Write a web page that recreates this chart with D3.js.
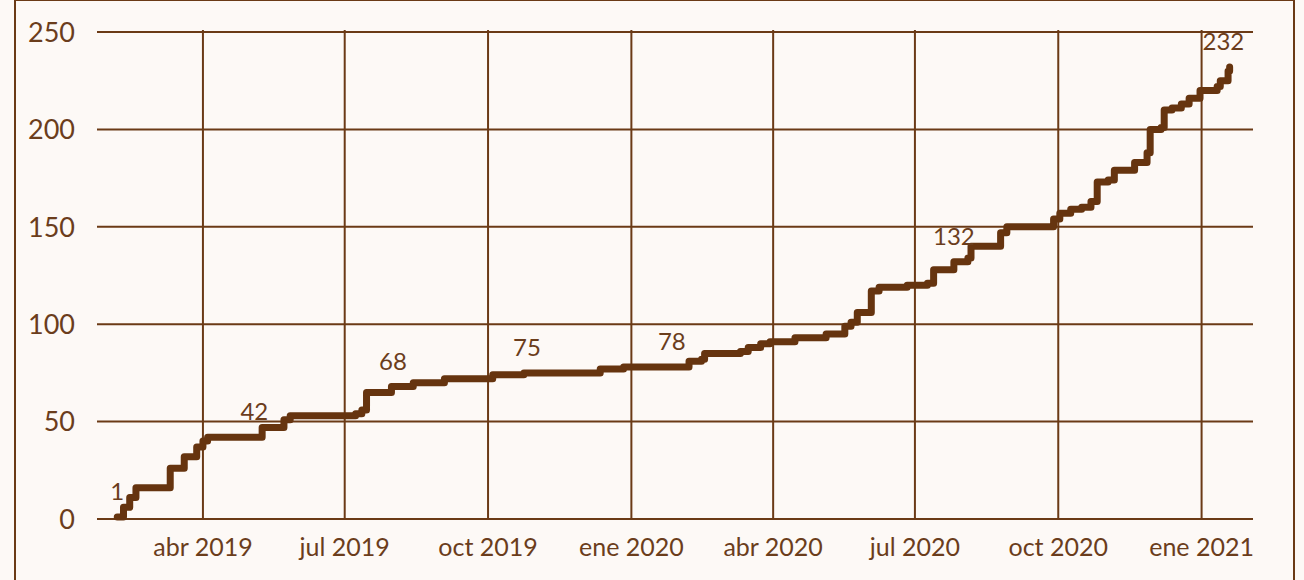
<!DOCTYPE html>
<html>
<head>
<meta charset="utf-8">
<script src="https://cdn.jsdelivr.net/npm/d3@7"></script>
<style>
    html, body { margin: 0; padding: 0; background: #fdf9f6; }
    #chart { width: 1304px; height: 580px; }
    text { font-family: "Lato", "Open Sans", sans-serif; fill: #6b3d1c; }
</style>
</head>
<body>
<div id="chart"></div>
<script>
// cumulative count
var dates = ["2019-02-05", "2019-02-09", "2019-02-13", "2019-02-17", "2019-03-08", "2019-03-11",
    "2019-03-18", "2019-03-20", "2019-03-25", "2019-03-28", "2019-04-01", "2019-04-04",
    "2019-05-07", "2019-05-09", "2019-05-21", "2019-05-23", "2019-05-27", "2019-07-04",
    "2019-07-08", "2019-07-12", "2019-07-15", "2019-07-25", "2019-07-31", "2019-08-12",
    "2019-08-14", "2019-08-28", "2019-09-03", "2019-10-01", "2019-10-04", "2019-10-22",
    "2019-10-24", "2019-12-10", "2019-12-12", "2019-12-25", "2019-12-27", "2020-02-02",
    "2020-02-07", "2020-02-15", "2020-02-17", "2020-03-05", "2020-03-11", "2020-03-16",
    "2020-03-24", "2020-03-30", "2020-04-13", "2020-04-15", "2020-05-03", "2020-05-05",
    "2020-05-13", "2020-05-17", "2020-05-21", "2020-05-25", "2020-06-01", "2020-06-03",
    "2020-06-08", "2020-06-26", "2020-07-09", "2020-07-13", "2020-07-22", "2020-07-26",
    "2020-07-28", "2020-08-04", "2020-08-06", "2020-08-23", "2020-08-25", "2020-08-29",
    "2020-09-22", "2020-09-28", "2020-10-02", "2020-10-09", "2020-10-16", "2020-10-22",
    "2020-10-26", "2020-11-02", "2020-11-06", "2020-11-16", "2020-11-19", "2020-11-24",
    "2020-11-27", "2020-11-29", "2020-12-06", "2020-12-08", "2020-12-13", "2020-12-19",
    "2020-12-24", "2020-12-29", "2020-12-31", "2021-01-07", "2021-01-11", "2021-01-13",
    "2021-01-17", "2021-01-18", "2021-01-19"];
var counts = [1, 6, 11, 16, 16, 26,
    26, 32, 32, 37, 40, 42,
    42, 47, 47, 51, 53, 53,
    54, 56, 65, 65, 68, 68,
    70, 70, 72, 72, 74, 74,
    75, 75, 77, 77, 78, 78,
    81, 82, 85, 85, 86, 88,
    90, 91, 91, 93, 93, 95,
    95, 99, 101, 106, 106, 117,
    119, 120, 121, 128, 128, 132,
    132, 134, 140, 140, 147, 150,
    150, 154, 157, 159, 160, 163,
    173, 174, 179, 179, 183, 183,
    188, 200, 201, 210, 211, 213,
    216, 216, 220, 220, 222, 225,
    225, 230, 232];

// labelled points
var labelDates = ["2019-02-05", "2019-05-04", "2019-08-01", "2019-10-26", "2020-01-27", "2020-07-26", "2021-01-15"];
var labelValues = [1, 42, 68, 75, 78, 132, 232];

var yTicks = [0, 50, 100, 150, 200, 250];
var xTicks = ["2019-04-01", "2019-07-01", "2019-10-01", "2020-01-01", "2020-04-01", "2020-07-01", "2020-10-01", "2021-01-01"];
var xTickLabels = ["abr 2019", "jul 2019", "oct 2019", "ene 2020", "abr 2020", "jul 2020", "oct 2020", "ene 2021"];
var xDomain = ["2019-01-23", "2021-02-03"];

var brown = "#6b3a16";
var lineBrown = "#66340f";

function makeChart(divID) {
    var width = 1304;
    var height = 580;
    var margin = { left: 97, right: 51, top: 32, bottom: 61 };
    var parse = d3.timeParse("%Y-%m-%d");

    var svg = d3.select("#" + divID).append("svg")
        .attr("width", width)
        .attr("height", height);

    // outer frame
    svg.append("rect")
        .attr("x", 15)
        .attr("y", 0)
        .attr("width", 1279)
        .attr("height", 600)
        .attr("fill", "#fdf9f6")
        .attr("stroke", brown)
        .attr("stroke-width", 2);

    var x = d3.scaleTime()
        .domain(xDomain.map(parse))
        .range([margin.left, width - margin.right]);
    var y = d3.scaleLinear()
        .domain([0, 250])
        .range([height - margin.bottom, margin.top]);

    // horizontal grid + y labels
    svg.append("g")
        .selectAll("line")
        .data(yTicks)
        .enter()
        .append("line")
        .attr("x1", margin.left)
        .attr("x2", width - margin.right)
        .attr("y1", function (d) { return y(d); })
        .attr("y2", function (d) { return y(d); })
        .attr("stroke", brown)
        .attr("stroke-width", 2);

    svg.append("g")
        .selectAll("text")
        .data(yTicks)
        .enter()
        .append("text")
        .attr("x", 75)
        .attr("y", function (d) { return y(d); })
        .attr("text-anchor", "end")
        .attr("dy", "0.36em")
        .style("font-size", "27px")
        .text(function (d) { return d; });

    // vertical grid + x labels
    svg.append("g")
        .selectAll("line")
        .data(xTicks)
        .enter()
        .append("line")
        .attr("x1", function (d) { return x(parse(d)); })
        .attr("x2", function (d) { return x(parse(d)); })
        .attr("y1", margin.top - 2)
        .attr("y2", y(0))
        .attr("stroke", brown)
        .attr("stroke-width", 2);

    svg.append("g")
        .selectAll("text")
        .data(xTicks)
        .enter()
        .append("text")
        .attr("x", function (d) { return x(parse(d)); })
        .attr("y", 556)
        .attr("text-anchor", "middle")
        .style("font-size", "25px")
        .text(function (d, i) { return xTickLabels[i]; });

    var points = dates.map(function (d, i) { return { date: parse(d), value: counts[i] }; });

    var line = d3.line()
        .curve(d3.curveStepAfter)
        .x(function (d) { return x(d.date); })
        .y(function (d) { return y(d.value); });

    svg.append("path")
        .datum(points)
        .attr("d", line)
        .attr("fill", "none")
        .attr("stroke", lineBrown)
        .attr("stroke-width", 7)
        .attr("stroke-linejoin", "round")
        .attr("stroke-linecap", "round");

    svg.append("g")
        .selectAll("text")
        .data(labelValues)
        .enter()
        .append("text")
        .attr("x", function (d, i) { return x(parse(labelDates[i])); })
        .attr("y", function (d) { return y(d) - 17; })
        .attr("text-anchor", "middle")
        .style("font-size", "24px")
        .text(function (d) { return d; });
}

makeChart("chart");
</script>
</body>
</html>
